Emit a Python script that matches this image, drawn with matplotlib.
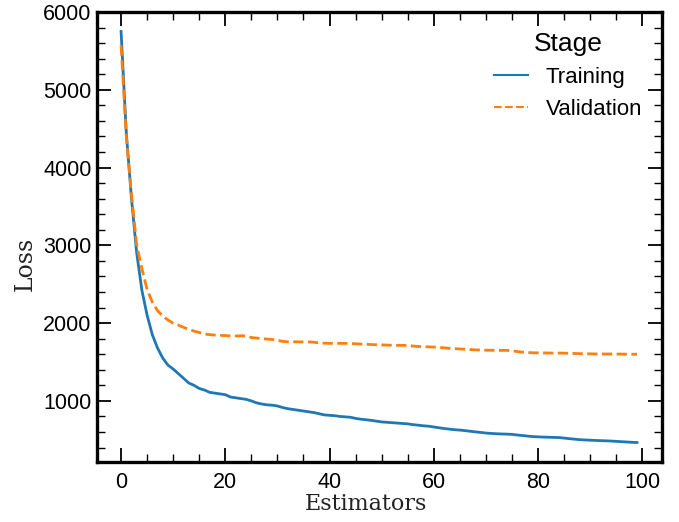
import numpy as np
import matplotlib
matplotlib.use("Agg")
import matplotlib.pyplot as plt
from matplotlib.ticker import MultipleLocator

# loss per estimator
estimators = list(range(100))
training = [5750, 4450, 3600, 2900, 2420, 2100, 1850, 1680, 1550, 1460,
            1410, 1350, 1290, 1230, 1200, 1160, 1140, 1110, 1100, 1090,
            1080, 1050, 1040, 1030, 1020, 1000, 975, 960, 950, 945,
            935, 915, 900, 890, 880, 870, 860, 850, 835, 820,
            815, 810, 800, 795, 790, 775, 765, 758, 750, 740,
            730, 725, 720, 715, 710, 705, 695, 688, 680, 675,
            665, 655, 645, 637, 630, 625, 618, 610, 602, 595,
            587, 582, 578, 575, 573, 570, 562, 555, 548, 541,
            538, 535, 533, 531, 529, 522, 515, 508, 502, 498,
            495, 492, 489, 487, 484, 480, 476, 472, 468, 465]
validation = [5570, 4400, 3650, 3000, 2700, 2430, 2270, 2160, 2090, 2040,
              2000, 1975, 1945, 1920, 1897, 1880, 1860, 1852, 1847, 1843,
              1840, 1836, 1835, 1838, 1835, 1815, 1808, 1800, 1795, 1790,
              1780, 1765, 1760, 1760, 1760, 1758, 1758, 1755, 1745, 1742,
              1740, 1740, 1740, 1740, 1738, 1735, 1730, 1728, 1725, 1722,
              1720, 1718, 1715, 1714, 1714, 1712, 1705, 1700, 1697, 1695,
              1692, 1690, 1682, 1677, 1672, 1668, 1664, 1660, 1656, 1654,
              1652, 1651, 1650, 1650, 1650, 1645, 1635, 1627, 1622, 1619,
              1618, 1617, 1616, 1615, 1615, 1614, 1612, 1610, 1608, 1606,
              1605, 1604, 1603, 1603, 1603, 1602, 1602, 1601, 1600, 1600]
stages = ["Training", "Validation"]

plt.rcParams['font.family'] = ['Liberation Sans', 'DejaVu Sans']

fig = plt.figure(figsize=(6.79, 5.22), dpi=100)
ax = fig.add_axes([0.143, 0.115, 0.832, 0.862])

ax.plot(estimators, training, color='#1f77b4', lw=2.0, label=stages[0])
ax.plot(estimators, validation, color='#ff7f0e', lw=2.0, ls='--', label=stages[1])

ax.set_xlim(-4.6, 103.8)
ax.set_ylim(215, 6000)
ax.xaxis.set_major_locator(MultipleLocator(20))
ax.xaxis.set_minor_locator(MultipleLocator(5))
ax.yaxis.set_major_locator(MultipleLocator(1000))
ax.yaxis.set_minor_locator(MultipleLocator(200))

ax.tick_params(which='both', direction='in', top=True, right=True)
ax.tick_params(which='major', length=10, width=1.3, labelsize=15.5)
ax.tick_params(which='minor', length=5.5, width=1.0)
ax.tick_params(axis='x', which='major', pad=7)
ax.tick_params(axis='y', which='major', pad=4)
for s in ax.spines.values():
    s.set_linewidth(2.4)

ax.set_xlabel('Estimators', family='DejaVu Serif', fontsize=16, color='#222222')
ax.set_ylabel('Loss', family='DejaVu Serif', fontsize=17, color='#222222')
ax.xaxis.set_label_coords(0.476, -0.068)
ax.yaxis.set_label_coords(-0.106, 0.44)

leg = ax.legend(title='Stage', loc='upper right', frameon=False, fontsize=16,
                title_fontsize=19, handlelength=1.5, borderaxespad=0.5)
for h in leg.legend_handles:
    h.set_linewidth(1.5)

fig.savefig('out.png', dpi=100)
